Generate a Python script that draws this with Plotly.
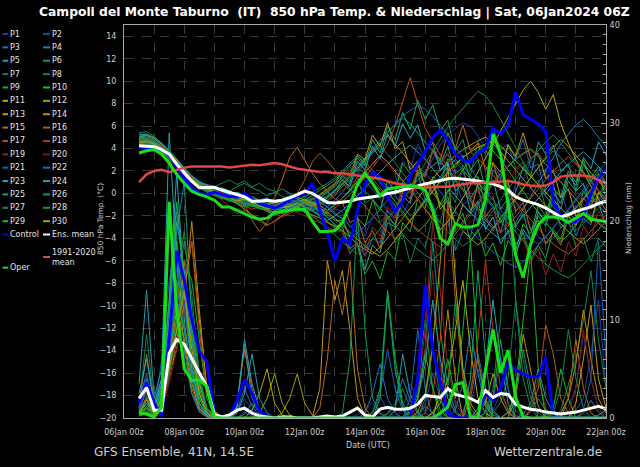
import plotly.graph_objects as go
import pandas as pd

# ---------------- data ----------------
TIMES = pd.date_range("2024-01-06 12:00", periods=63, freq="6h")
TICK_VALS = pd.date_range("2024-01-06", "2024-01-22", freq="2D")
TICK_LABELS = ["06Jan 00z", "08Jan 00z", "10Jan 00z", "12Jan 00z", "14Jan 00z",
               "16Jan 00z", "18Jan 00z", "20Jan 00z", "22Jan 00z"]
TEMP_TICKS = [-20, -18, -16, -14, -12, -10, -8, -6, -4, -2, 0, 2, 4, 6, 8, 10, 12, 14]
PRECIP_TICKS = [0, 10, 20, 30, 40]

MEMBER_NAMES = ["P%d" % k for k in range(1, 31)]
MEMBER_COLORS = ["#1a3a9e", "#1c44a8", "#2070c0", "#1a80b4", "#20a0a8", "#12907a",
                 "#108050", "#12844e", "#14b030", "#12c024", "#b4a800", "#a89a00",
                 "#c49a12", "#c08a10", "#b86c10", "#a85e10", "#c44c12", "#b43c10",
                 "#962222", "#821818", "#1a62b4", "#1a6cb4", "#22a4c4", "#20a0b0",
                 "#12a464", "#10985c", "#108a44", "#129444", "#24b824", "#a4a400"]

# 850 hPa temperature (deg C), 6-hourly from 06Jan 12z
T_P01 = [4.8,4.9,4.6,4.1,3.0,2.2,1.5,0.9,0.6,0.5, 0.3,0.4,0.1,-0.2,-0.5,-0.4,-0.8,-1.0,-0.9,-0.6,-0.3,0.0,0.2,-0.1,-0.5,-0.9,-1.4, -1.6,-3.0,-2.4,-3.8,-2.1,-1.5,0.6,0.9,2.9,2.2,4.4,3.1,2.4,3.0,0.9,1.3,-1.0,-0.6,-2.8,-2.2,-3.4,-1.2,-1.6,0.9,1.2,3.0,1.6,2.2,-0.3,0.4,-1.9,-1.1,-2.6,-0.6,-0.8,1.1]
T_P02 = [4.5,4.7,4.4,3.9,3.3,2.5,1.8,1.2,0.7,0.4, 0.2,0.0,-0.3,-0.1,-0.4,-0.7,-0.6,-0.9,-1.2,-1.0,-0.7,-0.4,-0.6,-0.9,-0.5,0.1,0.8, 1.5,2.3,2.0,1.2,0.4,-0.5,-1.6,-2.4,-1.8,-0.6,0.7,1.9,3.1,4.3,5.2,5.8,6.3,6.0,5.1,4.0,2.6,1.4,0.3,-0.8,-1.9,-3.0,-3.8,-4.5,-4.0,-3.1,-2.0,-1.2,-0.3,0.5,1.3,2.0]
T_P03 = [5.0,5.1,4.8,4.2,3.5,2.6,1.7,1.1,0.8,0.6, 0.5,0.2,0.0,-0.3,-0.2,-0.5,-0.9,-1.1,-0.8,-0.5,-0.7,-1.0,-1.3,-1.1,-0.8,-1.2,-1.9, -2.2,-3.9,-3.5,-5.6,-4.0,-4.4,-1.5,-2.2,0.9,0.2,1.8,-0.6,-0.9,-3.3,-2.5,-5.1,-3.4,-3.9,-0.8,-1.5,2.1,1.2,4.4,3.1,4.8,2.3,2.6,-0.1,0.9,-2.0,-1.7,-3.8,-2.2,-2.8,-0.3,-0.9]
T_P04 = [4.3,4.6,4.5,4.0,3.4,2.8,2.0,1.4,0.9,0.5, 0.1,-0.2,-0.1,-0.4,-0.8,-1.0,-0.8,-1.2,-1.5,-1.3,-1.0,-0.6,-0.3,0.1,0.5,0.9,1.4, 2.0,2.7,3.3,2.8,2.1,1.3,0.6,-0.2,-1.1,-2.0,-1.4,-0.5,0.6,1.5,2.4,3.0,2.5,1.6,0.7,-0.4,-1.3,-2.4,-3.3,-2.6,-1.5,-0.3,0.9,2.0,3.2,4.4,5.3,6.1,6.6,5.9,5.0,4.2]
T_P05 = [5.3,5.2,4.9,4.3,3.6,2.9,2.1,1.5,1.0,0.8, 0.6,0.4,0.1,-0.2,-0.1,-0.4,-0.6,-0.4,-0.8,-1.1,-0.9,-0.6,-0.8,-1.2,-1.6,-2.1,-2.8, -3.0,-4.9,-4.4,-6.8,-4.6,-5.3,-2.6,-3.0,-0.2,-0.9,1.9,1.5,3.8,2.6,4.2,1.8,2.3,-0.4,0.6,-2.1,-1.2,-3.5,-0.8,0.1,2.4,1.5,4.6,3.5,4.3,2.0,2.6,0.2,0.9,-1.4,-0.9,-2.8]
T_P06 = [4.9,5.0,4.7,4.3,3.7,3.0,2.2,1.3,0.8,0.3, 0.0,0.2,-0.1,-0.3,-0.6,-0.9,-1.1,-0.9,-0.6,-0.9,-1.3,-1.6,-1.4,-1.0,-0.6,-0.2,0.3, 0.9,1.6,2.4,3.2,4.0,4.8,5.5,6.1,6.7,6.2,5.4,4.5,3.7,2.9,2.0,1.1,0.2,-0.7,-1.5,-2.4,-3.1,-2.5,-1.6,-0.6,0.5,1.4,2.3,3.1,3.8,3.2,2.4,1.6,0.7,-0.3,-1.1,-1.8]
T_P07 = [4.7,4.8,4.6,4.2,3.5,2.7,1.9,1.2,0.6,0.3, 0.1,-0.2,-0.5,-0.4,-0.7,-1.0,-1.3,-1.5,-1.2,-0.9,-1.1,-1.4,-1.7,-1.5,-1.1,-0.7,-0.2, 0.9,0.3,1.5,-0.9,-0.4,-2.6,-1.9,-4.4,-3.6,-6.2,-4.0,-4.8,-2.0,-2.6,0.3,-0.8,2.5,1.6,4.6,3.5,5.8,3.9,4.4,2.2,2.8,0.4,1.2,-1.3,-0.6,-3.1,-2.4,-4.8,-3.9,-6.1,-4.0,-4.8]
T_P08 = [5.4,5.5,5.1,4.4,3.8,3.1,2.3,1.6,1.1,0.7, 0.6,0.9,1.2,0.8,1.1,0.6,0.9,0.4,0.2,-0.3,-0.4,-0.1,-0.3,-0.7,-1.0,-0.6,0.0, 0.6,1.3,2.1,2.9,3.6,4.2,3.5,2.7,1.8,0.9,0.1,-0.8,-1.7,-2.6,-3.4,-4.1,-4.7,-4.2,-3.4,-2.5,-1.6,-0.6,0.4,1.3,2.2,3.0,3.8,4.6,5.2,4.5,3.6,2.7,1.9,1.1,0.3,-0.5]
T_P09 = [4.4,4.6,4.4,4.0,3.3,2.5,1.7,1.0,0.5,0.1, -0.2,-0.5,-0.3,-0.6,-0.9,-1.2,-1.0,-1.4,-1.7,-1.5,-1.2,-0.9,-1.2,-1.6,-2.0,-2.5,-3.1, -3.4,-5.3,-4.6,-7.2,-6.0,-7.6,-5.2,-5.9,-2.6,-3.4,-0.5,-1.3,1.5,0.9,3.1,2.3,3.4,1.2,1.5,-1.0,-0.3,-2.6,-2.0,-4.6,-3.5,-5.9,-4.6,-5.8,-3.2,-4.1,-1.6,-2.4,0.2,-0.8,1.7,0.9]
T_P10 = [4.2,4.4,4.3,3.9,3.4,2.7,2.0,1.4,0.9,0.6, 0.3,0.5,0.2,-0.1,-0.4,-0.3,-0.6,-0.9,-0.7,-1.0,-1.2,-0.9,-0.6,-0.2,0.3,0.7,1.2, 1.8,2.5,3.1,2.5,1.8,1.0,0.2,-0.7,-1.6,-2.5,-3.4,-2.8,-1.9,-0.9,0.2,1.2,2.1,3.0,3.8,4.4,3.8,3.0,2.1,1.2,0.2,-0.8,-1.7,-2.6,-3.5,-4.3,-3.7,-2.8,-1.8,-0.9,0.0,0.8]
T_P11 = [4.6,4.7,4.5,4.1,3.4,2.6,1.9,1.3,0.9,0.6, 0.3,0.1,-0.2,-0.5,-0.3,-0.6,-0.9,-0.7,-1.0,-1.3,-1.1,-0.8,-0.5,-0.8,-1.1,-1.5,-1.0, -0.4,0.3,1.1,1.9,2.7,3.4,2.8,2.0,1.2,0.4,-0.5,-1.4,-2.3,-3.2,-2.5,-1.5,-0.4,0.7,1.9,3.1,4.4,5.6,6.8,8.0,9.2,10.0,9.0,7.5,8.8,6.2,4.5,3.0,1.8,0.6,-0.5,-1.5]
T_P12 = [4.5,4.6,4.3,3.8,3.1,2.4,1.8,1.2,0.7,0.4, 0.1,-0.1,-0.4,-0.2,-0.5,-0.8,-1.1,-1.3,-1.0,-0.7,-1.0,-1.3,-1.6,-1.3,-0.9,-0.4,0.2, 0.8,1.5,2.2,3.0,3.8,4.5,5.1,4.4,3.6,2.7,1.8,0.9,0.0,-0.9,-1.8,-2.6,-3.3,-4.0,-4.6,-4.0,-3.1,-2.2,-1.2,-0.3,0.6,1.5,2.4,3.3,4.1,4.8,4.2,3.4,2.6,1.8,1.0,0.3]
T_P13 = [4.9,5.0,4.8,4.4,3.6,2.9,2.1,1.5,1.0,0.6, 0.4,0.2,-0.1,0.1,-0.2,-0.5,-0.7,-0.5,-0.8,-1.1,-1.4,-1.2,-0.9,-0.5,-0.1,0.4,0.9, 1.9,1.6,3.5,3.0,5.2,4.2,6.3,4.0,4.6,2.1,2.9,0.4,1.0,-1.4,-0.6,-3.0,-1.0,-1.8,0.9,0.2,2.7,1.9,4.3,3.3,5.4,3.1,3.6,1.3,2.1,-0.4,0.4,-2.0,-1.3,-2.6,0.1,-0.8]
T_P14 = [4.4,4.5,4.3,3.9,3.2,2.4,1.6,1.1,0.7,0.3, 0.0,-0.3,-0.6,-0.9,-1.4,-1.9,-2.3,-2.8,-2.5,-2.0,-1.6,-1.2,-1.5,-1.9,-2.2,-2.6,-2.9, -3.3,-3.9,-4.5,-5.0,-5.4,-4.8,-4.0,-3.1,-2.2,-1.3,-0.4,0.5,1.3,2.1,2.8,3.4,3.9,4.3,4.7,5.0,4.4,3.7,2.9,2.1,1.3,0.5,-0.3,-1.1,-1.9,-2.7,-3.4,-4.0,-4.5,-3.9,-3.2,-2.5]
T_P15 = [4.7,4.9,4.7,4.2,3.5,2.8,2.0,1.3,0.8,0.4, 0.1,-0.2,0.0,-0.3,-0.6,-0.9,-1.2,-1.0,-0.4,1.2,3.2,4.1,3.0,1.8,0.9,0.2,-0.5, -0.8,-2.6,-2.2,-4.4,-3.3,-4.9,-2.0,-2.8,0.2,-0.5,2.1,1.6,3.9,3.0,5.4,4.0,6.1,3.8,4.5,2.1,2.8,0.3,1.0,-1.6,-0.8,-3.3,-2.4,-4.5,-3.5,-4.6,-2.0,-2.9,-0.4,-1.3,1.2,0.5]
T_P16 = [4.3,4.5,4.4,4.0,3.3,2.6,1.9,1.3,0.8,0.5, 0.2,0.0,-0.3,-0.6,-0.9,-2.4,-3.4,-2.6,-1.5,-1.1,-0.6,0.0,1.2,2.8,3.6,2.9,2.0, 1.2,0.4,-0.4,-1.2,-2.0,-2.7,-3.4,-4.0,-3.3,-2.5,-1.6,-0.7,0.2,1.1,1.9,2.6,3.2,3.7,3.1,2.4,1.6,0.8,0.0,-0.8,-1.6,-2.4,-3.2,-3.9,-4.5,-5.0,-5.4,-4.8,-4.1,-3.3,-2.6,-1.9]
T_P17 = [5.1,5.2,4.9,4.3,3.6,2.9,2.1,1.4,0.9,0.5, 0.2,-0.1,-0.4,-0.2,-0.5,-0.8,-1.1,-0.9,-1.2,-1.5,-1.3,-1.0,-0.7,-1.0,-1.4,-1.8,-1.3, -0.7,-0.1,0.6,1.4,2.3,3.2,4.4,6.0,8.2,10.3,8.0,5.8,4.6,3.4,2.3,1.3,0.4,-0.5,-1.4,-2.2,-2.9,-3.5,-2.9,-2.1,-1.2,-0.4,0.4,1.2,2.0,2.7,3.3,2.6,1.8,1.0,0.2,-0.6]
T_P18 = [4.6,4.8,4.6,4.1,3.5,2.7,1.9,1.2,0.7,0.3, 0.0,-0.3,-0.5,-0.8,-1.1,-1.4,-1.2,-1.5,-1.8,-2.1,-1.8,-1.4,-1.0,-0.6,-0.2,0.3,0.8, 1.4,2.0,2.7,2.1,1.3,0.5,-0.3,-1.1,-1.9,-2.6,-3.2,-3.8,-4.3,-4.8,-4.2,-3.4,-2.5,-1.6,-0.7,0.2,1.0,1.8,2.5,3.1,3.6,4.0,3.4,2.6,1.8,1.0,0.2,-0.6,-1.3,-2.0,-2.6,-3.1]
T_P19 = [4.2,4.3,4.1,3.7,3.1,2.4,1.7,1.1,0.6,0.2, -0.1,-0.6,-1.2,-1.8,-1.5,-2.0,-2.5,-2.9,-2.4,-1.9,-1.5,-1.7,-2.0,-2.4,-2.6,-3.0,-3.3, -3.4,-5.4,-4.4,-5.6,-3.0,-3.8,-1.2,-2.0,0.6,0.0,2.4,1.4,3.7,2.5,3.6,1.3,2.0,-0.6,0.3,-2.0,-1.2,-3.6,-2.6,-5.1,-3.9,-6.2,-4.9,-7.3,-5.4,-7.0,-4.3,-5.6,-2.9,-4.0,-1.6,-2.6]
T_P20 = [4.8,5.0,4.8,4.3,3.6,2.8,2.0,1.4,0.9,0.6, 0.3,0.1,-0.2,-0.5,-0.8,-0.6,-0.9,-1.2,-1.0,-0.7,-0.4,-0.7,-1.0,-1.3,-1.0,-0.6,-0.2, 0.3,0.8,1.4,2.0,2.6,3.1,2.5,1.8,1.0,0.2,-0.6,-1.4,-2.2,-2.9,-3.5,-4.0,-3.4,-2.6,-1.8,-1.0,-0.2,0.6,1.3,2.0,2.6,3.1,3.5,2.9,2.2,1.4,0.6,-0.2,-1.0,-1.8,-2.5,-3.2]
T_P21 = [4.5,4.6,4.4,4.0,3.3,2.5,1.7,1.0,0.6,0.3, 0.0,-0.3,-0.1,-0.4,-0.7,-1.0,-0.8,-1.1,-1.4,-1.2,-0.9,-0.6,-0.9,-1.3,-1.7,-1.2,-0.6, 0.1,0.9,1.8,2.7,3.6,4.5,5.4,6.2,6.9,7.4,7.8,7.5,6.9,6.1,5.2,4.2,3.2,2.2,1.2,0.3,-0.6,-1.5,-2.3,-3.0,-3.6,-4.1,-4.5,-3.9,-3.1,-2.3,-1.4,-0.5,0.4,1.2,2.0,2.7]
T_P22 = [4.4,4.5,4.2,3.8,3.2,2.5,1.8,1.2,0.8,0.5, 0.2,0.4,0.1,-0.2,-0.5,-0.8,-0.6,-0.9,-1.2,-1.5,-1.3,-1.0,-0.7,-0.4,-0.8,-1.2,-1.7, -2.3,-2.9,-3.5,-2.9,-2.2,-1.4,-0.6,0.3,1.1,1.8,2.4,1.8,1.0,0.2,-0.7,-1.6,-2.5,-3.3,-4.0,-4.6,-5.2,-5.7,-6.2,-6.6,-6.1,-5.4,-4.6,-3.8,-3.0,-2.2,-1.4,-0.6,0.2,0.9,1.5,2.1]
T_P23 = [5.0,5.2,4.9,4.4,3.7,3.0,2.2,1.5,1.0,0.7, 0.4,0.2,-0.1,0.1,-0.2,-0.5,-0.8,-1.0,-0.8,-0.5,-0.2,-0.5,-0.8,-1.1,-0.7,-0.3,0.2, 1.2,0.6,2.9,2.1,4.2,3.1,5.3,4.2,6.2,4.9,6.1,3.8,4.5,2.0,2.8,0.2,1.0,-1.5,-0.7,-3.2,-2.1,-4.5,-3.3,-5.6,-3.2,-4.2,-1.6,-2.5,0.1,-0.9,1.6,0.7,3.2,2.2,4.6,3.4]
T_P24 = [4.6,4.7,4.5,4.1,3.4,2.7,1.9,1.2,0.7,0.4, 0.1,-0.1,-0.4,-0.7,-1.0,-0.8,-1.1,-1.4,-1.7,-1.5,-1.2,-0.9,-1.2,-1.5,-1.9,-2.4,-2.0, -1.5,-0.9,-0.2,0.5,1.2,1.9,2.6,3.2,3.8,4.3,3.7,3.0,2.2,1.4,0.6,-0.2,-1.0,-1.7,-2.4,-3.0,-3.6,-4.1,-3.5,-2.8,-2.0,-1.2,-0.4,0.4,1.2,1.9,2.6,3.2,3.7,3.1,2.4,1.7]
T_P25 = [5.2,5.3,5.0,4.5,3.8,3.0,2.2,1.5,0.9,0.5, 0.2,0.0,-0.3,-0.6,-0.4,-0.7,-1.0,-1.3,-1.1,-0.8,-0.5,-0.8,-1.1,-0.8,-0.4,0.1,0.6, 1.6,1.0,3.4,2.5,4.8,3.6,6.0,4.8,7.2,5.7,8.3,6.6,7.9,5.6,6.5,3.8,4.8,2.1,3.0,0.3,1.2,-1.4,-0.4,-3.0,-1.8,-4.2,-2.0,-2.9,-0.5,-1.4,1.1,0.2,2.6,1.4,2.4,0.8]
T_P26 = [4.8,4.9,4.7,4.2,3.5,2.8,2.0,1.3,0.8,0.4, 0.3,0.5,0.2,0.6,0.9,0.5,0.2,-0.2,0.1,0.4,0.0,-0.5,-0.9,-1.4,-2.1,-1.6,-1.0, -0.4,0.2,0.8,0.2,-0.5,-1.3,-2.1,-2.9,-3.7,-4.4,-5.0,-5.5,-5.9,-5.3,-4.5,-3.6,-2.7,-1.8,-0.9,0.0,0.9,1.7,2.4,3.0,3.5,3.9,3.3,2.6,1.8,1.0,0.2,-0.6,-1.4,-2.1,-2.7,-3.2]
T_P27 = [4.3,4.5,4.3,3.9,3.2,2.5,1.8,1.2,0.7,0.3, 0.0,-0.2,-0.5,-0.8,-0.6,-0.9,-1.2,-1.0,-1.3,-1.6,-1.4,-1.1,-0.8,-0.5,-0.2,0.2,0.7, 1.2,1.8,2.3,1.7,1.0,0.3,-0.4,-1.1,-0.3,0.6,1.6,2.7,3.8,4.9,5.9,6.8,7.6,8.4,9.1,8.7,7.8,6.6,5.3,4.0,2.8,1.7,0.7,-0.3,-1.2,-2.0,-2.7,-3.3,-2.7,-2.0,-1.3,-0.6]
T_P28 = [4.7,4.8,4.6,4.1,3.4,2.6,1.8,1.1,0.6,0.2, -0.1,-0.4,-0.7,-0.5,-0.8,-1.1,-1.4,-1.2,-1.5,-1.8,-1.6,-1.3,-1.6,-2.0,-2.5,-3.1,-3.7, -4.3,-4.9,-5.4,-4.8,-4.0,-3.2,-2.3,-1.4,-0.5,0.4,1.2,1.9,2.5,3.0,3.4,2.8,2.1,1.3,0.5,-0.3,-1.1,-1.9,-2.7,-3.5,-4.3,-5.0,-5.7,-6.3,-6.8,-7.2,-7.5,-7.0,-6.3,-5.6,-4.9,-4.2]
T_P29 = [4.1,4.3,4.1,3.7,3.1,2.4,1.7,1.1,0.6,0.3, 0.0,-0.3,-0.6,-0.9,-1.2,-1.0,-1.3,-1.6,-1.9,-1.7,-1.4,-1.1,-0.8,-1.1,-1.5,-1.9,-2.4, -2.4,-3.9,-2.2,-2.9,-0.6,-1.5,1.1,0.2,2.7,1.8,2.8,0.6,1.3,-1.1,-0.3,-2.8,-1.8,-4.3,-3.2,-5.6,-4.4,-6.4,-4.2,-5.1,-2.7,-3.6,-1.1,-2.0,0.5,-0.4,2.0,1.0,3.0,1.1,1.8,-0.4]
T_P30 = [4.5,4.6,4.4,4.0,3.3,2.6,1.9,1.3,0.8,0.4, 0.2,-0.1,-0.4,-0.7,-0.5,-0.8,-1.1,-1.4,-1.2,-0.9,-0.6,-0.3,-0.6,-0.9,-1.3,-1.7,-2.2, -2.8,-3.5,-4.1,-4.7,-5.2,-5.6,-5.0,-4.2,-3.3,-2.4,-1.5,-0.6,0.3,1.1,1.9,2.6,3.2,3.7,4.1,4.4,4.6,4.2,3.6,2.9,2.2,1.5,0.8,0.1,-0.6,-1.3,-2.0,-1.3,-0.5,0.3,1.1,1.9]

T_CONTROL = [4.1,4.0,4.0,3.9,3.4,2.4,1.3,0.5,0.0,-0.1, 0.1,-0.1,-0.3,-0.3,0.0,-0.5,-0.9,-1.1,-1.3,-1.0, -0.6,-0.2,0.0,0.9,-1.5,-3.5,-6.0,-4.0,-4.5,-1.5, 0.8,1.8,1.5,-0.3,-1.6,-0.7,1.6,2.6,3.7,5.0, 5.6,4.7,3.5,3.0,2.8,3.6,4.0,5.8,5.3,6.0, 9.0,7.0,6.6,6.2,5.5,-0.8,-2.0,-2.6,-2.5,-1.9, 0.0,1.3,2.1]
T_ENSMEAN = [4.25,4.2,4.15,3.9,3.5,2.6,1.8,1.1,0.5,0.5, 0.55,0.3,0.1,-0.1,-0.3,-0.7,-0.7,-0.6,-0.7,-0.6, -0.4,-0.1,0.2,0.0,-0.4,-0.8,-0.85,-0.75,-0.7,-0.5, -0.4,-0.3,-0.2,0.0,0.1,0.3,0.5,0.7,0.85,1.0, 1.15,1.3,1.35,1.3,1.2,1.1,1.0,0.85,0.6,0.3, -0.3,-0.6,-0.8,-1.0,-1.3,-1.7,-2.1,-1.9,-1.6,-1.4, -1.2,-0.9,-0.7]
T_CLIM = [1.0,1.7,2.0,2.1,1.9,2.1,2.3,2.4,2.4,2.4, 2.35,2.4,2.3,2.4,2.5,2.55,2.5,2.6,2.7,2.6, 2.4,2.2,2.1,2.0,1.9,1.9,1.8,1.8,1.7,1.6, 1.5,1.45,1.3,1.1,0.9,0.8,0.6,0.5,0.5,0.55, 0.6,0.6,0.7,0.8,0.9,0.9,1.0,1.0,1.05,1.1, 1.0,0.8,0.7,0.65,0.7,1.0,1.5,1.6,1.6,1.6, 1.5,1.2,0.9]
T_OPER = [3.6,3.8,3.9,3.5,2.7,1.7,0.9,0.2,-0.1,-0.3, -0.6,-1.2,-1.2,-1.5,-1.8,-2.1,-2.3,-2.2,-1.7,-1.6, -1.5,-1.4,-1.4,-2.5,-3.4,-3.4,-3.3,-2.6,-1.0,0.8, 1.8,0.9,-0.2,0.4,0.5,0.6,0.7,0.6,0.3,-1.5, -4.0,-4.5,-2.7,-3.0,-3.0,-2.8,-0.5,5.3,3.5,-1.0, -5.5,-7.5,-4.5,-2.8,-2.1,-2.1,-2.2,-2.6,-2.2,-1.8, -2.3,-2.4,-2.5]

# 6-hourly precipitation (mm)
P_P01 = [1.2,2.5,0.8,3.5,9.0,12.5,6.0,2.5,0.8,0.2, 0,0,0,0.5,2.0,0.8,0,0,0,0, 0,0,0,0,0,0,0,0,0,0.3, 0.8,1.5,0.4,0,0,1.0,3.5,2.0,0.5,0, 0,0.5,1.8,0.6,0,0,0,0.8,2.5,1.0, 0.3,0,0,0,0,0,0.4,1.2,3.0,8.5, 4.0,1.0,0.3]
P_P02 = [0.5,1.8,0.4,6.0,14.0,18.5,9.5,4.0,1.2,0.3, 0,0,0,0,0.6,0.2,0,0,0,0, 0,0,0,0,0,0,0,0,0,0, 0,0.6,2.2,0.8,0,0,0,0,1.5,4.5, 2.0,0.6,0,0,1.0,5.0,2.0,0,0,0.5, 1.5,0.5,0,0,0,0,0,0,0.8,2.0, 6.5,12.0,3.0]
P_P03 = [2.0,4.5,1.0,4.0,11.0,21.0,14.0,5.5,1.5,0.4, 0,0,0,0.8,3.0,1.2,0.2,0,0,0, 0,0,0,0,0,0,0,0,0,0, 0.5,2.5,5.5,2.0,0.5,0,0,0.3,1.2,0.5, 0,0,0,0.6,2.8,6.5,3.0,0.8,0,0, 0,0,0,0,0.3,0.8,0.2,0,0,0, 0,0,0]
P_P04 = [0.8,3.0,0.6,2.5,8.0,15.5,11.0,7.5,3.0,0.8, 0.1,0,0,0,0.4,1.5,0.5,0,0,0, 0,0,0,0,0,0,0,0,0,0, 0,0,0,0.5,1.5,4.0,1.8,0.4,0,0, 0,0,0.8,3.5,9.0,4.5,1.2,0.3,0,0, 0,0,0.6,2.0,0.8,0,0,0,0,0.5, 1.8,0.6,0]
P_P05 = [3.5,13.0,2.0,5.0,29.0,16.0,7.0,2.5,0.6,0.1, 0,0,0,1.0,7.5,2.0,0.5,0,0,0, 0,0,0,0,0,0,0,0,0,0, 0,0,0,0,0.8,6.5,2.5,0.6,0,0, 0,0,0,0,0,0.5,1.8,0.6,0,0, 0,0.4,1.5,5.0,2.0,0.5,0,0,0,0, 0,0.3,0.8]
P_P06 = [0.4,1.5,0.3,3.0,7.0,19.0,24.0,10.0,3.5,0.8, 0.2,0,0,0,0,0,0,0,0,0, 0,0,0,0,0,0,0,0,0,0, 0,0,0,0,0,0,0.6,2.5,7.0,18.0, 9.0,3.0,0.8,0,0,0,0,0,0,0, 2.0,7.0,3.0,0,0,0,0,0,0,0, 0,0,0]
P_P07 = [1.0,8.5,1.5,3.0,10.0,17.0,12.0,6.0,2.0,0.5, 0,0,0,0,0,0,0,0,0,0, 0,0,0,0,0,0,0,0,0,0, 0,0,0,0.4,1.2,3.0,1.0,0,0,0, 0,0,0,0,0,0,0,0.5,1.6,4.0, 12.0,6.0,2.0,0.5,0,0,0,0,0,0, 0,0,0]
P_P08 = [0.6,2.0,0.5,2.0,6.5,13.0,18.0,12.5,4.5,1.0, 0.2,0,0,0,0,0,0,0,0,0, 0,0,0,0,0,0,0,0,0,0, 0,0,0,0,0,0,1.0,4.0,10.0,3.0, 0,0,0,0,0,0,0,0,0,0, 0,0,0,0,0,0,0.8,3.5,6.0,10.0, 15.0,8.0,3.0]
P_P09 = [0.3,0.8,0.2,1.5,5.0,9.0,16.0,14.0,8.0,2.0, 0.3,0,0,0,0,0,0,0,0,0, 0,0,0,0,0,0,0,0,0,0, 0,0.5,3.0,13.0,6.0,1.5,0.3,0,0,0, 0,0,0,0,0,0,0,2.0,8.0,3.0, 0,0,0,0,0,0,0,0,0,0, 0,0,0]
P_P10 = [0.2,0.5,0.1,2.0,8.0,18.0,10.0,4.0,1.0,0.2, 0,0,0,0,0,0,0,0,0,0, 0,0,0,0,0,0,0,0,0,0, 0,0,0,0,0,0,0,0,0,0.6, 2.0,6.0,2.0,9.0,18.0,6.0,1.5,0,0,0, 0,0,0,0,0,1.0,5.0,2.0,0,0, 0,0,0]
P_P11 = [0.4,1.0,0.3,1.8,5.5,10.0,15.0,9.0,3.5,1.0, 0.2,0,0,0,0,0.8,2.5,5.0,1.5,0.3, 0,0,0,0,0,0,0,0,0,0, 0,0,0,0,0,0,0,0,0,0.5, 1.5,4.0,9.0,14.0,7.0,2.0,0.5,0,0,0, 0,0,0,0,0,0,0,0,0,0, 0,0,0]
P_P12 = [0.2,0.6,0.2,1.2,4.0,8.0,13.0,18.0,10.0,3.0, 0.8,0,0,0,0,0,0,0,0,0.5, 2.0,4.5,1.5,0.3,0,0,0,0,0,0, 0,0,0,0,0,0,0,0,0,0, 0,0,0,0,0,0,0,0,0,0.6, 2.5,8.5,5.0,1.2,0,0,0,0,0,0, 0,0,0]
P_P13 = [0.5,1.5,0.4,2.2,6.0,11.0,8.0,3.5,1.0,0.3, 0,0,0,0,0,0,0,0,0,0, 0,0,0,0,3.0,16.0,12.0,15.0,9.0,2.0, 0.2,0,0,0,0,0,0,0,0,0, 0,0,0,0,0,0.4,1.5,4.5,2.0,0.5, 0,0,0,0,0,0,0,0,1.5,6.0, 11.5,4.0,1.0]
P_P14 = [0.3,1.0,0.3,1.5,4.5,7.0,12.0,20.0,11.0,3.0, 0.6,0,0,0,0,0,0,0,0,0, 0,0,0,0,0,0,0,0,0,0, 0,0,0,0,0,0,0,0,0,0, 3.0,11.0,4.0,0,0,0,0,0,0,0, 0,0,0,0,0,0,0.5,2.0,5.5,11.0, 6.0,2.0,0.5]
P_P15 = [1.5,6.5,1.2,3.0,9.0,14.0,7.5,3.0,0.8,0.2, 0,0,0,1.5,7.0,3.0,0.6,0,0,0, 0,0,0,0,1.0,6.0,14.0,10.5,16.0,5.0, 1.0,0,0,0,0,0,0,0,0,0, 0,0,0,0,0,0,0,0,0,0, 0,0,0,0,0,0,0,2.0,8.0,3.0, 0.5,0,0]
P_P16 = [0.6,2.2,0.5,2.5,7.0,12.0,16.0,8.5,3.0,0.8, 0.2,0,0,0,0,0,0,0,0,0, 0,0,0,0,0,0,0,0,0,0, 0,0,0,0,0,0,0,0,0,0, 0,0,0,0,2.0,6.0,2.0,0,0,0, 0,0,0.8,3.0,9.5,6.5,2.0,0.5,0,0, 0,0,0]
P_P17 = [0.8,3.0,0.6,2.0,6.0,10.0,13.0,8.0,2.5,0.6, 0,0,0,0,0,0,0,0,0,0, 0,0,0,0,0,0,0,0,0,0, 0,0,0,0,0,0,0,0,0.5,2.5, 8.0,22.0,12.0,4.0,1.0,0,0,0,0,0, 0,0,0,0,0,0,0,0,0,0, 0,0,0]
P_P18 = [0.4,1.2,0.3,1.5,5.0,9.0,14.0,18.0,9.0,2.5, 0.5,0,0,0,0,0,0,0,0,0, 0,0,0,0,0,0,0,0,0,0, 0,0,0,0,0,0,0,0,0,0, 0,0,0,0.6,2.5,8.0,16.0,9.0,3.0,0.8, 0,0,0,0,0,0,0,0,0,0, 0,0,0]
P_P19 = [0.3,0.8,0.2,1.0,3.5,7.0,11.0,6.0,2.0,0.5, 0,0,0,0,0,0,0,0,0,0, 0,0,0,0,0,0,0,0,0,0, 0,0,0,0,0,0,0.8,3.0,9.0,20.0, 13.0,5.0,1.5,0.3,0,0,0,0,0,0, 0,0,1.0,4.0,1.0,0,0,0,0,0, 0,0,0]
P_P20 = [0.2,0.6,0.2,1.2,4.0,8.5,12.0,7.0,2.5,0.6, 0,0,0,0,0,0,0,0,0,0, 0,0,0,0,0,0,0,0,0,0, 0,0,0,0,0,0,0,1.5,7.0,15.0, 5.0,1.0,0,0,0,0,0,0,0,0, 0,0,0,0,0,0,0,0.5,3.0,9.0, 4.0,1.0,0]
P_P21 = [1.0,3.5,0.8,3.0,9.5,16.0,11.5,5.0,1.5,0.4, 0,0,0,0,0,0,0,0,0,0, 0,0,0,0,0,0,0,0,0,0, 0,0.6,2.5,7.0,3.0,0.8,0,0,0,0, 0,0,0,0,0,0,0,0,0,0, 0,0,0,0,0,0,0,0,0,0.8, 4.0,18.0,6.0]
P_P22 = [0.8,2.8,0.6,2.5,8.0,13.5,9.0,4.0,1.2,0.3, 0,0,0,0,0,0,0,0,0,0, 0,0,0,0,0,0,0,0,0,0, 0,0,0,0,0,0,2.0,9.0,3.0,0, 0,0,0,0,0,0,0.5,2.0,6.0,3.0, 0.8,0,0,0,0,0,0,0,0,0, 0,0,0]
P_P23 = [2.5,6.0,1.5,4.0,12.0,25.0,13.0,5.0,1.5,0.3, 0,0,0,1.2,8.0,3.5,0.8,0,0,0, 0,0,0,0,0,0,0,0,0,0, 0,0,0,0,0,0,0,0,0,0, 0,0,0,0,0,1.0,5.0,12.0,6.0,1.5, 0,0,0,0,0,0,0,0,0,0, 0,0,0]
P_P24 = [1.8,4.0,1.0,3.5,10.0,20.0,15.0,8.0,2.5,0.5, 0,0,0,0.5,2.5,6.5,2.0,0.5,0,0, 0,0,0,0,0,0,0,0,0,0, 0,0,0,0,0,0,0.6,2.0,5.5,12.0, 6.0,2.0,0.5,0,0,0,0,0,0,0, 0,0,0,0,0,0,0,0,0,0, 0,0,0]
P_P25 = [0.5,1.5,0.4,2.0,6.0,12.0,9.0,4.5,1.5,0.4, 0,0,0,0,0,0,0,0,0,0, 0,0,0,0,0,0,0,0,0,0, 0,0,2.0,12.5,5.0,1.0,0,0,0,0, 0,0,0,0,4.0,15.0,6.0,0,0,0, 0,0,0,0,0,0,0,0,0,0, 0,0,0]
P_P26 = [0.4,1.2,0.3,1.8,5.5,10.0,14.0,9.0,3.0,0.8, 0.1,0,0,0,0,0,0,0,0,0, 0,0,0,0,0,0,0,0.5,6.0,21.0, 9.0,2.0,0.5,0,0,0,0,0,0,0, 0,3.0,12.0,5.0,0,0,0,0,0,0, 0,0,0,0,0,0,0,0,0,0, 0,0,0]
P_P27 = [0.3,1.0,0.2,1.5,4.5,9.0,13.0,10.0,4.0,1.0, 0.2,0,0,0,0,0,0,0,0,0, 0,0,0,0,0,0,0,0,0,0, 0,0,0,0,0,0,0,0,2.0,7.0, 2.0,0,0,0,0,0,0,0,0,0, 0,0,0,0,0,0.5,3.0,9.0,4.0,1.0, 0,0,0]
P_P28 = [0.6,2.0,0.5,2.5,7.5,14.0,19.0,11.0,4.0,1.0, 0.2,0,0,0,0,0,0,0,0,0, 0,0,0,0,0,0,0,0,0,0, 0,0,0,0,0,0,0,0,0,0, 0,0,0,0,0,0,0.6,3.0,10.0,24.0, 12.0,4.0,1.0,0,0,0,0,0,0,0, 0,0,0]
P_P29 = [0.2,0.6,0.2,3.0,12.0,22.0,14.0,6.0,2.0,0.5, 0,0,0,0,0,0,0,0,0,0, 0,0,0,0,0,0,0,0,0,0, 0,0,0,0,0,0,0.5,2.0,6.5,3.0, 0.8,0,0,0,0,0,0,0,0,0, 3.0,10.0,17.0,5.0,0,0,0,0,0,0, 0,0,0]
P_P30 = [0.5,1.8,0.4,2.0,5.0,9.0,13.0,7.0,2.5,0.6, 0,0,0,0,0,0,0.5,2.0,4.5,1.5, 0.3,0,0,0,0,0,0,0,0,0, 0,0,0,0,0,0,0,0.6,2.5,7.5, 16.0,26.0,14.0,5.0,1.5,0.3,0,0,0,0, 0,0,0,0,0,0,0,0,0,0, 0,0,0]

P_CONTROL = [1.5,3.6,1.5,0.2,8.0,17.0,14.0,10.0,6.8,5.7, 0.4,0.1,0.1,1.8,3.9,2.5,0.7,0.2,0,0, 0,0,0,0,0,0,0,0,0,0, 0,0,0,0,0,0,0.2,3.9,13.5,6.9, 3.6,0.5,0.1,0,0,0.1,2.5,1.8,3.0,5.6, 4.9,4.5,4.2,4.2,6.2,0.1,0,0,0,0, 0,0,0]
P_ENSMEAN = [2.0,3.1,0.8,0.8,6.6,8.0,7.5,6.0,4.6,3.2, 0.4,0.1,0.3,0.8,1.0,0.5,0.2,0.1,0.0,0.1, 0.1,0.0,0.0,0.0,0.1,0.2,0.1,0.2,0.6,1.0, 0.3,0.1,0.9,1.1,0.9,0.9,1.0,1.4,2.3,2.2, 2.1,3.0,2.4,2.2,2.0,1.6,2.8,2.1,2.5,2.4, 1.4,1.1,0.9,0.8,0.6,0.5,0.4,0.5,0.6,0.8, 1.0,1.2,0.9]
P_OPER = [0.5,0.4,0.1,1.1,22.0,11.0,5.0,3.8,3.9,3.2, 0.1,0,0,0,0,0,0,0,0,0, 0,0,0,0,0,0,0,0,0,0, 0,0,0,0,0,0,0,0,0,0, 0.5,1.1,3.4,3.6,0.1,0,4.9,9.0,4.6,6.9, 2.1,0.1,0,0,0,0,0,0,0,0, 0,0,0]

T_MEMBERS = [T_P01, T_P02, T_P03, T_P04, T_P05, T_P06, T_P07, T_P08, T_P09, T_P10,
             T_P11, T_P12, T_P13, T_P14, T_P15, T_P16, T_P17, T_P18, T_P19, T_P20,
             T_P21, T_P22, T_P23, T_P24, T_P25, T_P26, T_P27, T_P28, T_P29, T_P30]
P_MEMBERS = [P_P01, P_P02, P_P03, P_P04, P_P05, P_P06, P_P07, P_P08, P_P09, P_P10,
             P_P11, P_P12, P_P13, P_P14, P_P15, P_P16, P_P17, P_P18, P_P19, P_P20,
             P_P21, P_P22, P_P23, P_P24, P_P25, P_P26, P_P27, P_P28, P_P29, P_P30]

C_CONTROL = "#0000ff"
C_ENSMEAN = "#ffffff"
C_CLIM = "#e04848"
C_OPER = "#18e018"

# ---------------- figure ----------------
fig = go.Figure()


def line(x, y, color, width, axis):
    return go.Scatter(x=x, y=y, mode="lines", yaxis=axis,
                      line=dict(color=color, width=width),
                      showlegend=False, hoverinfo="skip")


# precipitation (base axis, right side)
for col, vals in zip(MEMBER_COLORS, P_MEMBERS):
    fig.add_trace(line(TIMES[:len(vals)], vals, col, 1, "y"))
fig.add_trace(line(TIMES[:len(P_CONTROL)], P_CONTROL, C_CONTROL, 3, "y"))
fig.add_trace(line(TIMES[:len(P_ENSMEAN)], P_ENSMEAN, C_ENSMEAN, 3, "y"))
fig.add_trace(line(TIMES[:len(P_OPER)], P_OPER, C_OPER, 3, "y"))

# temperature (overlay axis, left side)
for col, vals in zip(MEMBER_COLORS, T_MEMBERS):
    fig.add_trace(line(TIMES[:len(vals)], vals, col, 1, "y2"))
fig.add_trace(line(TIMES[:len(T_CONTROL)], T_CONTROL, C_CONTROL, 3, "y2"))
fig.add_trace(line(TIMES[:len(T_ENSMEAN)], T_ENSMEAN, C_ENSMEAN, 3, "y2"))
fig.add_trace(line(TIMES[:len(T_CLIM)], T_CLIM, C_CLIM, 2.5, "y2"))
fig.add_trace(line(TIMES[:len(T_OPER)], T_OPER, C_OPER, 3, "y2"))

GRID = "#3a3a3a"
AXIS_LINE = "#a8a8a8"
TICK_FONT = dict(family="DejaVu Sans", size=8, color="#cfcfcf")

L, R, T, B = 124, 606, 25, 418


def fx(px):
    return (px - L) / (R - L)


def fy(py):
    return (B - py) / (B - T)


fig.update_layout(
    width=640, height=467,
    margin=dict(l=L, r=640 - R, t=T, b=467 - B, pad=0),
    paper_bgcolor="black", plot_bgcolor="black",
    font=dict(family="DejaVu Sans", color="#cfcfcf"),
    hovermode=False,
    showlegend=False,
    xaxis=dict(
        type="date",
        range=["2024-01-06 00:00", "2024-01-22 00:00"],
        tickvals=list(TICK_VALS), ticktext=TICK_LABELS,
        tickfont=dict(family="DejaVu Sans", size=8, color="#cfcfcf"),
        ticks="", ticklabelstandoff=6,
        showgrid=True, gridcolor=GRID, griddash="dash", gridwidth=1,
        minor=dict(dtick=86400000, showgrid=True, gridcolor=GRID, griddash="dash"),
        showline=True, linecolor=AXIS_LINE, linewidth=1, mirror=True,
        zeroline=False,
    ),
    yaxis=dict(
        side="right", range=[0, 40],
        tickvals=PRECIP_TICKS, tickfont=TICK_FONT,
        ticks="inside", ticklen=5, tickcolor=AXIS_LINE,
        minor=dict(dtick=1, ticks="inside", ticklen=3, tickcolor=AXIS_LINE),
        ticklabelstandoff=1,
        showgrid=False, zeroline=False,
        showline=True, linecolor=AXIS_LINE, linewidth=1,
    ),
    yaxis2=dict(
        overlaying="y", side="left", range=[-20, 15],
        tickvals=TEMP_TICKS, tickfont=TICK_FONT,
        ticks="", ticklabelstandoff=5,
        showgrid=True, gridcolor=GRID, griddash="dash", gridwidth=1,
        zeroline=False,
        showline=True, linecolor=AXIS_LINE, linewidth=1, mirror=True,
    ),
)

ann = []
shapes = []

# title and footer texts
ann.append(dict(text="<b>Campoli del Monte Taburno  (IT)  850 hPa Temp. &amp; Niederschlag | Sat, 06Jan2024 06Z</b>",
                x=fx(334), y=fy(13), xanchor="center", yanchor="middle",
                font=dict(family="DejaVu Sans", size=12.3, color="#ffffff")))
ann.append(dict(text="GFS Ensemble, 41N, 14.5E", x=fx(92), y=fy(452), xanchor="left", yanchor="middle",
                font=dict(family="DejaVu Sans", size=12, color="#d0d0d0")))
ann.append(dict(text="Wetterzentrale.de", x=fx(492), y=fy(452), xanchor="left", yanchor="middle",
                font=dict(family="DejaVu Sans", size=12, color="#d0d0d0")))
ann.append(dict(text="Date (UTC)", x=fx(368), y=fy(445), xanchor="center", yanchor="middle",
                font=dict(family="DejaVu Sans", size=8, color="#cfcfcf")))
ann.append(dict(text="850 hPa Temp. (°C)", x=fx(100), y=fy(219), xanchor="center", yanchor="middle",
                textangle=-90, font=dict(family="DejaVu Sans", size=7.5, color="#cfcfcf")))
ann.append(dict(text="Niederschlag (mm)", x=fx(628), y=fy(218), xanchor="center", yanchor="middle",
                textangle=-90, font=dict(family="DejaVu Sans", size=7.5, color="#cfcfcf")))

# legend (two columns)
LEG_FONT = dict(family="DejaVu Sans", size=8, color="#e4e4e4")
entries = []
for k in range(15):
    ypx = 34 + 13.37 * k
    entries.append((MEMBER_NAMES[2 * k], MEMBER_COLORS[2 * k], 0, ypx, 2))
    entries.append((MEMBER_NAMES[2 * k + 1], MEMBER_COLORS[2 * k + 1], 1, ypx, 2))
entries.append(("Control", C_CONTROL, 0, 234.5, 2))
entries.append(("Ens. mean", C_ENSMEAN, 1, 234.5, 2))
entries.append(("1991-2020<br>mean", C_CLIM, 1, 257.5, 2))
entries.append(("Oper", C_OPER, 0, 267.7, 2))

COL_X = [(2.5, 8, 8), (43, 50, 50)]
for label, col, c, ypx, w in entries:
    x0, x1, xt = COL_X[c]
    lypx = ypx if "<br>" not in label else ypx - 0.5
    shapes.append(dict(type="line", xref="paper", yref="paper",
                       x0=fx(x0), x1=fx(x1), y0=fy(lypx), y1=fy(lypx),
                       line=dict(color=col, width=w)))
    ann.append(dict(text=label, x=fx(xt), y=fy(ypx), xanchor="left", yanchor="middle",
                    align="left", font=LEG_FONT))

for a in ann:
    a.update(xref="paper", yref="paper", showarrow=False)

fig.update_layout(annotations=ann, shapes=shapes)

fig.write_html("out.html", config={"displayModeBar": False},
               post_script="document.body.style.margin='0px';")
